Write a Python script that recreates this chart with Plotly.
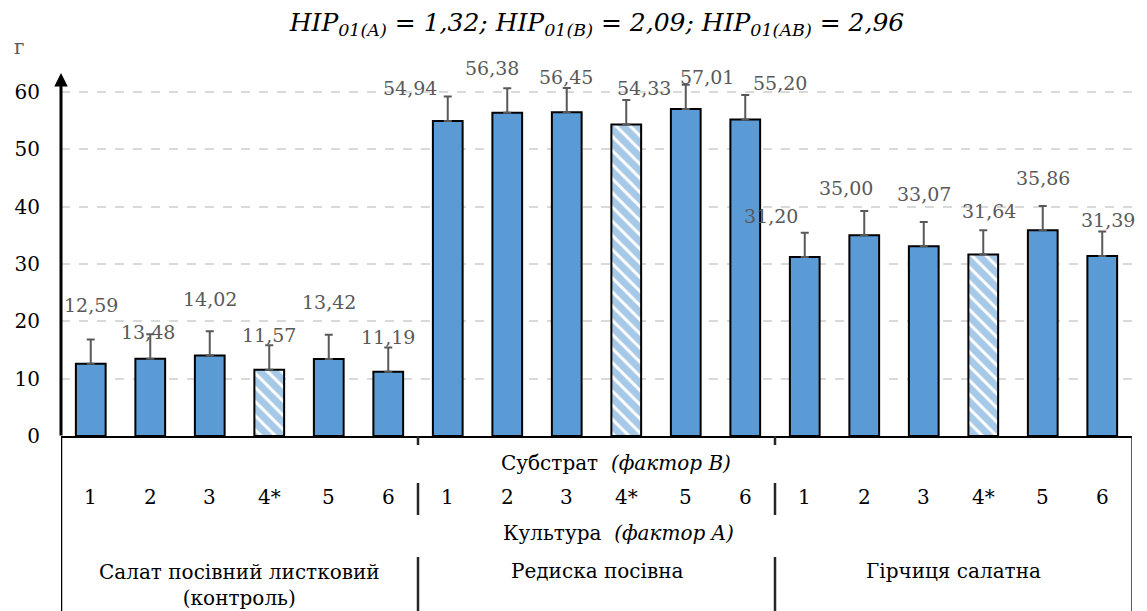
import plotly.graph_objects as go

# ---- data ----
substrates = ["1", "2", "3", "4*", "5", "6"]
cultures = ["Салат посівний листковий<br>(контроль)", "Редиска посівна", "Гірчиця салатна"]
lettuce = [12.59, 13.48, 14.02, 11.57, 13.42, 11.19]
radish = [54.94, 56.38, 56.45, 54.33, 57.01, 55.20]
mustard = [31.20, 35.00, 33.07, 31.64, 35.86, 31.39]
error_up = [4.25] * 18
y_ticks = [0, 10, 20, 30, 40, 50, 60]

values = lettuce + radish + mustard
labels = [f"{v:.2f}".replace(".", ",") for v in values]
sub_labels = substrates * 3
xs = list(range(len(values)))

# ---- style / label placement (pixel offsets from error-bar top) ----
BLUE = "#5B9BD5"
GREY = "#595959"
FONT = "DejaVu Serif, serif"
label_dx = [0, -2, 0, 0, 0, 0, -38, -15, -1, 18, 21, 35, -34, -18, 0, 6, 0, 6]
label_dy = [34, 2, 32, 10, 33, 10, 9, 20, 11, 12, 8, 12, 17, 23, 28, 19, 28, 12]
patterns = ["\\" if s == "4*" else "" for s in sub_labels]

fig = go.Figure()
fig.add_trace(go.Bar(
    x=xs, y=values, width=0.5,
    marker=dict(color=BLUE, line=dict(color="black", width=2),
                pattern=dict(shape=patterns, fgcolor="#4F93D2", bgcolor="white",
                             size=10, solidity=0.7)),
    error_y=dict(type="data", array=error_up, arrayminus=[0] * 18, symmetric=False,
                 color=GREY, thickness=2, width=4),
    hoverinfo="skip",
))

TXT = dict(family=FONT, size=20, color="black")
ann = []
for i, v in enumerate(values):
    ann.append(dict(x=i, y=v + error_up[i], xref="x", yref="y", text=labels[i],
                    showarrow=False, xshift=label_dx[i], yshift=label_dy[i],
                    xanchor="center", yanchor="middle",
                    font=dict(family=FONT, size=19, color=GREY)))

for i, s in enumerate(sub_labels):
    ann.append(dict(x=i, y=0, xref="x", yref="paper", text=s, showarrow=False,
                    xanchor="center", yanchor="middle", yshift=-61, font=TXT))
ann.append(dict(x=0.518, y=0, xref="paper", yref="paper",
                text="Субстрат&nbsp; <i>(фактор B)</i>", showarrow=False, yshift=-27,
                xanchor="center", yanchor="middle", font=TXT))
ann.append(dict(x=0.521, y=0, xref="paper", yref="paper",
                text="Культура&nbsp; <i>(фактор A)</i>", showarrow=False, yshift=-97,
                xanchor="center", yanchor="middle", font=TXT))
for k, (cx, dy) in enumerate(((2.5, -149), (8.5, -135), (14.5, -135))):
    ann.append(dict(x=cx, y=0, xref="x", yref="paper", text=cultures[k], showarrow=False,
                    xanchor="center", yanchor="middle", yshift=dy, font=TXT))
ann.append(dict(x=-0.0395, y=1.0707, xref="paper", yref="paper", text="г", showarrow=False,
                xanchor="center", yanchor="middle",
                font=dict(family=FONT, size=20, color=GREY)))
ann.append(dict(x=0, y=1, xref="paper", yref="paper", ax=0, ay=364, axref="pixel", ayref="pixel",
                text="", showarrow=True, arrowhead=2, arrowsize=0.9, arrowwidth=3,
                arrowcolor="black", standoff=0, startstandoff=0))

shapes = []
shapes.append(dict(type="line", xref="x", yref="paper", x0=-0.5, x1=-0.5, y0=0, y1=-0.5,
                   line=dict(color="black", width=2.5)))
shapes.append(dict(type="line", xref="x", yref="paper", x0=17.5, x1=17.5, y0=0, y1=-0.5,
                   line=dict(color="#262626", width=1.5)))
for sx in (5.5, 11.5):
    for (a, b) in ((0, -9), (-47, -79), (-121, -180)):
        shapes.append(dict(type="line", xref="x", yref="paper", ysizemode="pixel", yanchor=0,
                           x0=sx, x1=sx, y0=a, y1=b, line=dict(color="#262626", width=2.5)))

fig.update_layout(
    width=1147, height=611,
    margin=dict(l=61, r=15, t=73, b=175),
    plot_bgcolor="white", paper_bgcolor="white",
    showlegend=False,
    title=dict(text="<i>HIP<sub>01(A)</sub> = 1,32; HIP<sub>01(B)</sub> = 2,09; HIP<sub>01(AB)</sub> = 2,96</i>",
               x=0.5205, xref="container", xanchor="center",
               y=1 - 22 / 611, yref="container", yanchor="middle",
               font=dict(family=FONT, size=25, color="black")),
    xaxis=dict(range=[-0.5, 17.5], showticklabels=False, ticks="", showgrid=False,
               zeroline=False, showline=True, linecolor="black", linewidth=2),
    yaxis=dict(range=[0, 63.3], tickvals=y_ticks, showgrid=True, gridcolor="#D9D9D9",
               griddash="dash", gridwidth=1.5, zeroline=False, showline=False,
               ticks="", ticklabelstandoff=20,
               tickfont=dict(family=FONT, size=20, color="black")),
    annotations=ann, shapes=shapes,
)

fig.write_html("out.html")
